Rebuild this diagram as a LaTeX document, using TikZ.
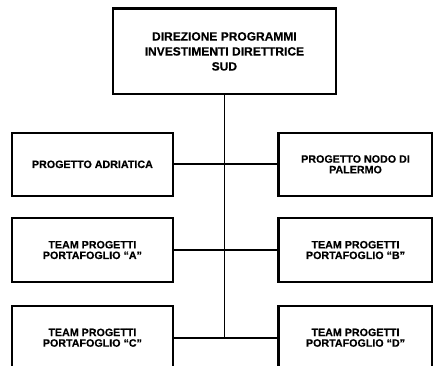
\documentclass[tikz,border=0pt]{standalone}
\usepackage{fontspec}
\newfontfamily\arialfont{Liberation Sans}[BoldFeatures={FakeBold=0.4}]
\tikzset{
  ufficio/.style={draw,line width=2.1pt,align=center,inner sep=2pt,
    font=\arialfont\bfseries\fontsize{10.7}{10.6}\selectfont},
  ramo/.style={line width=1.8pt}
}
\begin{document}
\begin{tikzpicture}[x=1pt,y=-1pt]
  \useasboundingbox (0,0) rectangle (433,365);
  \clip (0,0) rectangle (433,365);

  % direzione
  \node[ufficio,minimum width=223.3pt,minimum height=85.8pt,
    font=\arialfont\bfseries\fontsize{12}{15}\selectfont] (dir) at (224.4,51.4)
    {DIREZIONE PROGRAMMI\\INVESTIMENTI DIRETTRICE\\SUD};

  % progetti
  \node[ufficio,minimum width=161.3pt,minimum height=63.3pt] (adriatica) at (92.4,164.3)
    {PROGETTO ADRIATICA};
  \node[ufficio,minimum width=154pt,minimum height=63.3pt] (palermo) at (355.5,164.3)
    {PROGETTO NODO DI\\PALERMO};

  % team portafoglio
  \node[ufficio,minimum width=161.3pt,minimum height=63.4pt] (tpa) at (92.4,250)
    {TEAM PROGETTI\\PORTAFOGLIO “A”};
  \node[ufficio,minimum width=154pt,minimum height=63.4pt] (tpb) at (355.5,250)
    {TEAM PROGETTI\\PORTAFOGLIO “B”};
  \node[ufficio,minimum width=161.3pt,minimum height=63.4pt] (tpc) at (92.4,337.7)
    {TEAM PROGETTI\\PORTAFOGLIO “C”};
  \node[ufficio,minimum width=154pt,minimum height=63.4pt] (tpd) at (355.5,337.7)
    {TEAM PROGETTI\\PORTAFOGLIO “D”};

  % collegamenti
  \coordinate (fondo) at (dir.south |- tpc.east);
  \draw[ramo] (dir.south) -- (fondo);
  \draw[ramo] (adriatica.east) -- (palermo.west);
  \draw[ramo] (tpa.east) -- (tpb.west);
  \draw[ramo] (tpc.east) -- (tpd.west);
\end{tikzpicture}
\end{document}
